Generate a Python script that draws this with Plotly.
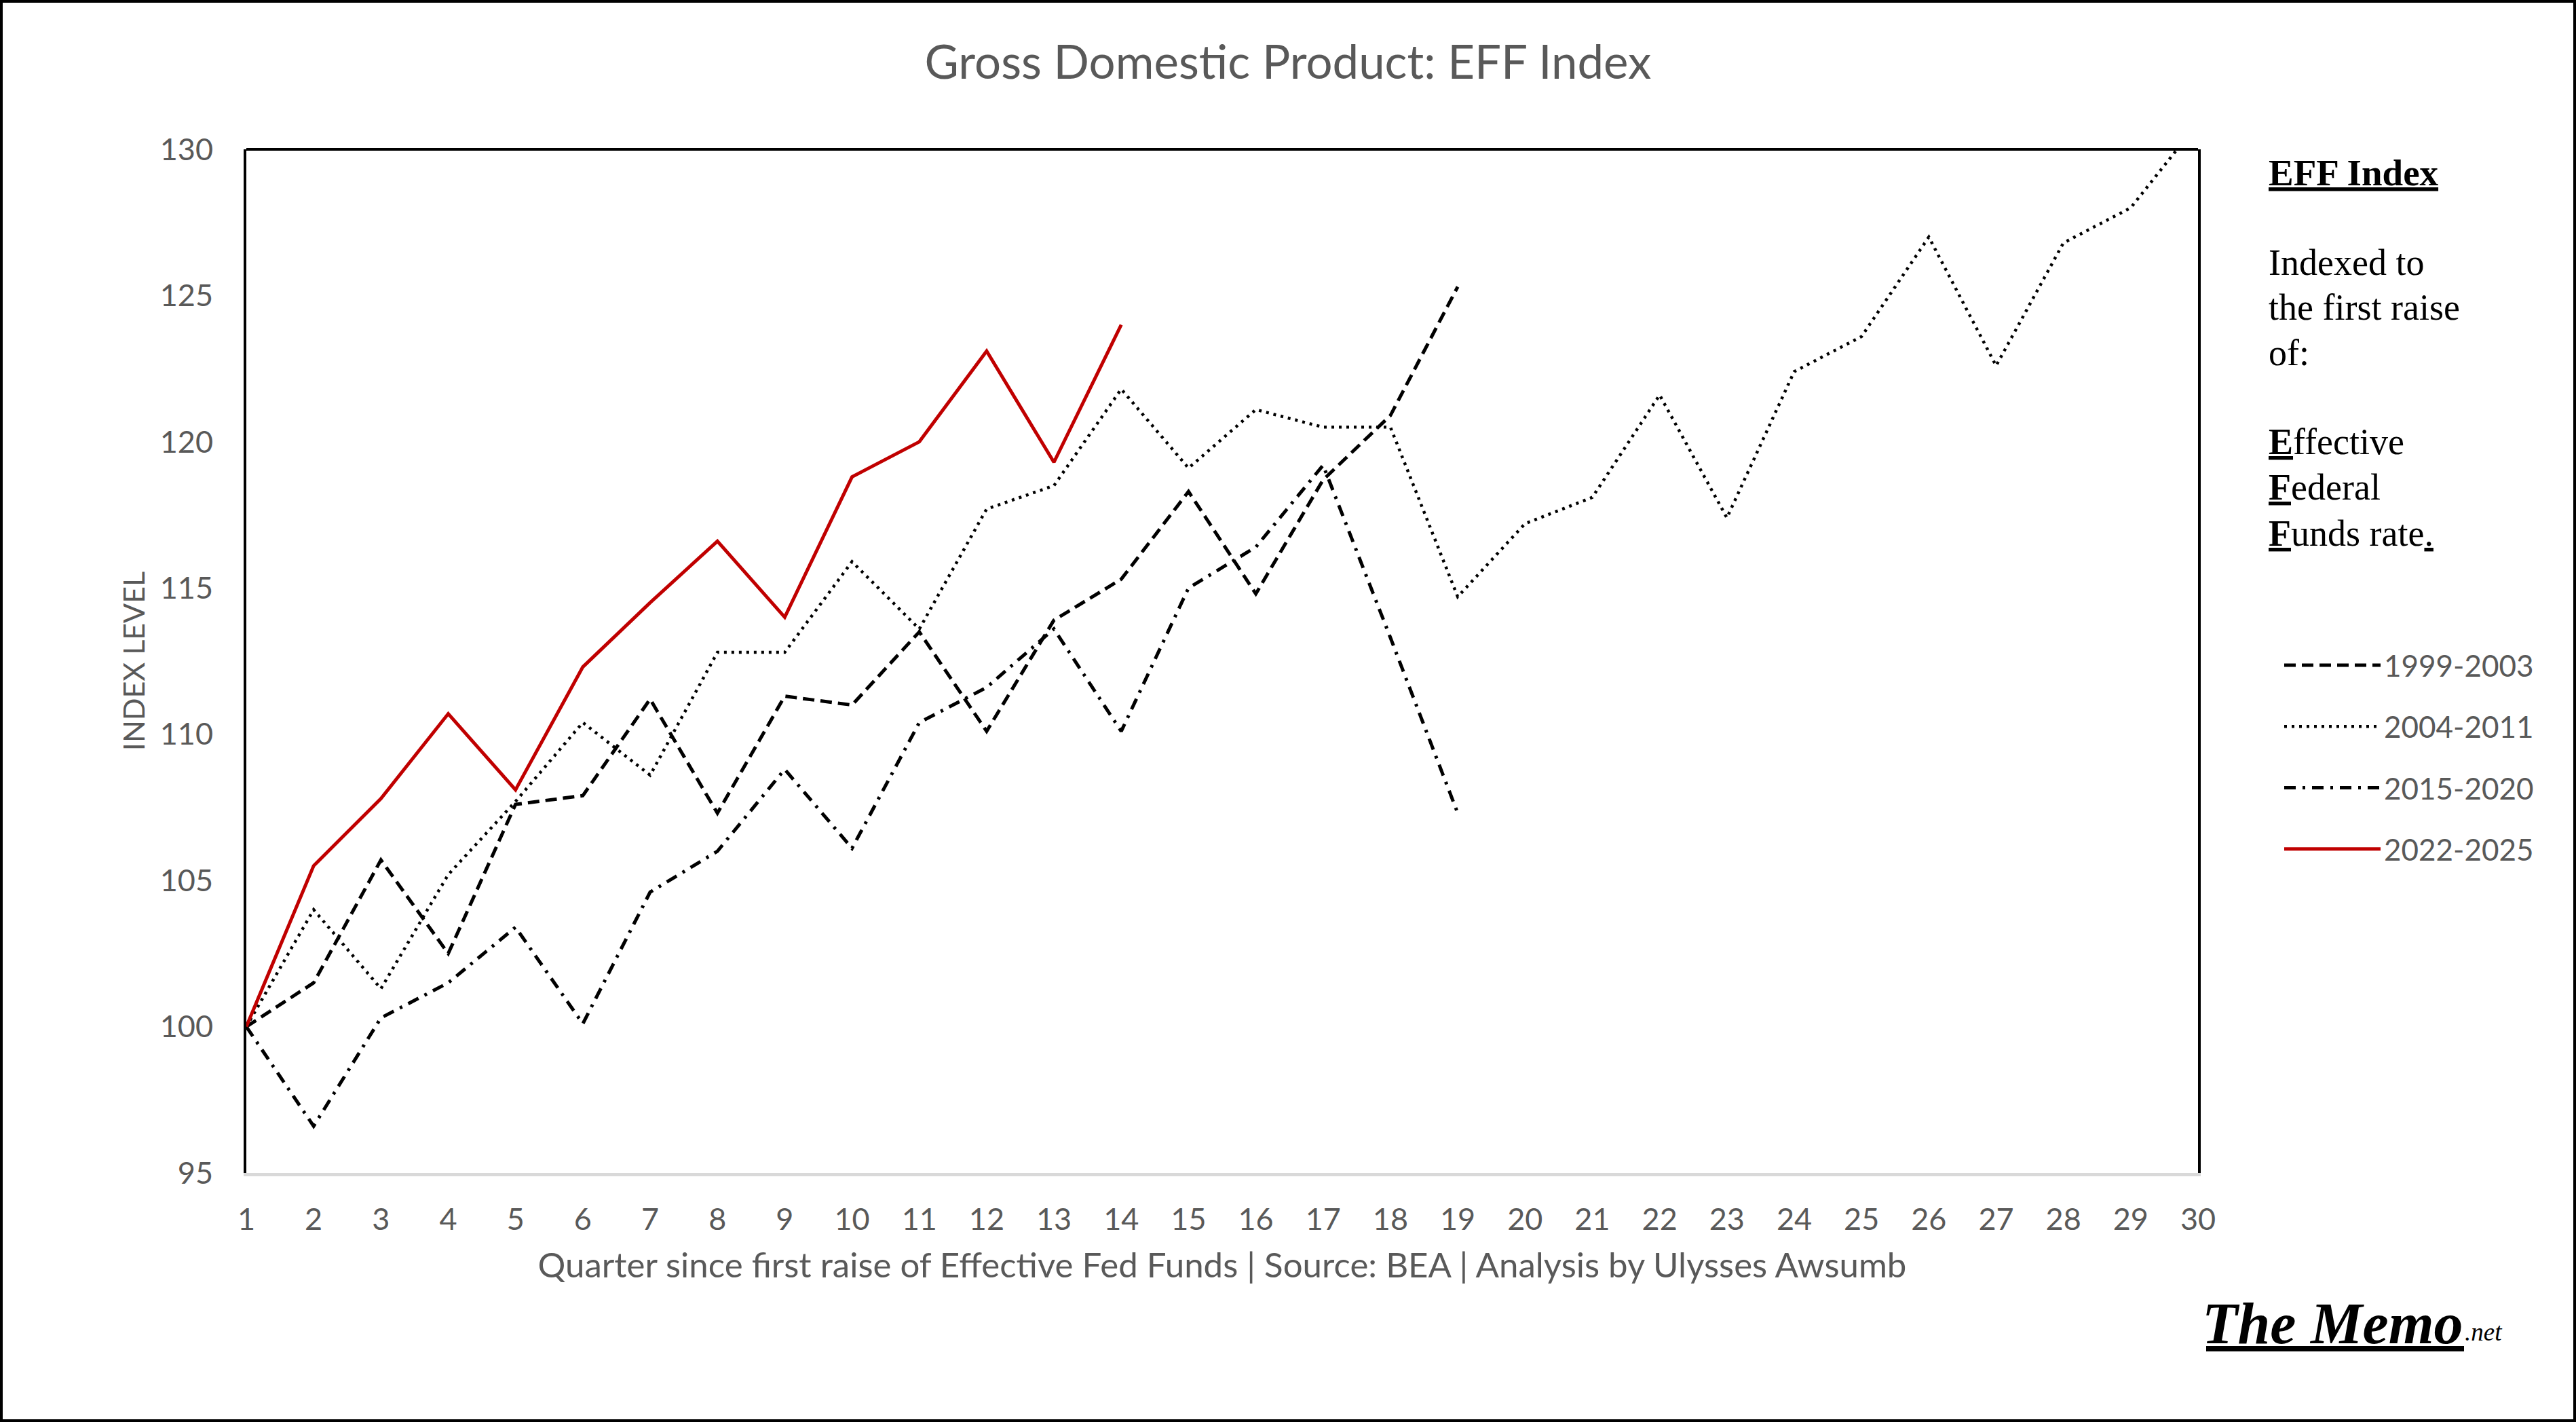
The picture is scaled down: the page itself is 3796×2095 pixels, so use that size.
import plotly.graph_objects as go

# ---------------- data ----------------
quarters = list(range(1, 31))
tick_labels = [str(q) for q in quarters]

s1999_2003 = [100.0, 101.5, 105.7, 102.5, 107.6, 107.9, 111.2, 107.3, 111.3, 111.0,
              113.5, 110.1, 113.9, 115.3, 118.3, 114.8, 118.7, 120.9, 125.3]
s2004_2011 = [100.0, 104.0, 101.3, 105.2, 107.7, 110.4, 108.6, 112.8, 112.8, 115.9,
              113.6, 117.7, 118.5, 121.8, 119.1, 121.1, 120.5, 120.5, 114.7, 117.2,
              118.1, 121.6, 117.4, 122.4, 123.6, 127.0, 122.6, 126.8, 128.0, 130.9]
s2015_2020 = [100.0, 96.6, 100.3, 101.5, 103.4, 100.1, 104.6, 106.0, 108.8, 106.1,
              110.4, 111.6, 113.6, 110.1, 115.0, 116.4, 119.2, 113.3, 107.3]
s2022_2025 = [100.0, 105.5, 107.8, 110.7, 108.1, 112.3, 114.5, 116.6, 114.0, 118.8,
              120.0, 123.1, 119.3, 124.0]

series_names = ["1999-2003", "2004-2011", "2015-2020", "2022-2025"]
series_values = [s1999_2003, s2004_2011, s2015_2020, s2022_2025]

# ---------------- geometry / styles ----------------
W, H = 3796, 2095
L, R, T, B = 363, 557, 220, 367
PW, PH = W - L - R, H - T - B


def px(X):
    return (X - L) / PW


def py(Y):
    return (H - B - Y) / PH


GRAY = "#595959"
SANS = "Lato"
SERIF = "Liberation Serif"

styles = [
    dict(color="black", width=5, dash="17px,9px"),
    dict(color="black", width=4.5, dash="4px,7px"),
    dict(color="black", width=5, dash="17px,10px,4px,10px"),
    dict(color="#C00000", width=5, dash="solid"),
]

fig = go.Figure()
for name, vals, st in zip(series_names, series_values, styles):
    fig.add_trace(go.Scatter(
        x=quarters[:len(vals)], y=vals, mode="lines", name=name,
        line=st, legendgroup=name, hoverinfo="x+y+name",
    ))

fig.update_layout(
    width=W, height=H,
    margin=dict(l=L, r=R, t=T, b=B, pad=0),
    paper_bgcolor="white", plot_bgcolor="white",
    font=dict(family=SANS, color=GRAY, size=45),
    title=dict(text="Gross Domestic Product: EFF Index", x=0.5, xref="container",
               xanchor="center", y=1 - 92 / H, yanchor="middle",
               font=dict(family=SANS, size=69, color=GRAY)),
    showlegend=True,
    legend=dict(x=px(3361), y=py(945), xanchor="left", yanchor="top",
                font=dict(family=SANS, size=44, color=GRAY),
                itemwidth=142, tracegroupgap=30, bgcolor="rgba(0,0,0,0)",
                borderwidth=0),
    xaxis=dict(range=[1, 30], tickmode="array", tickvals=quarters, ticktext=tick_labels,
               showgrid=False, zeroline=False, showline=True, linecolor="#d9d9d9",
               linewidth=5, ticks="", ticklabelstandoff=25,
               tickfont=dict(family=SANS, size=45, color=GRAY),
               title=dict(text="Quarter since first raise of Effective Fed Funds | Source: BEA | Analysis by Ulysses Awsumb",
                          font=dict(family=SANS, size=51, color=GRAY), standoff=27)),
    yaxis=dict(range=[95, 130], tickmode="linear", tick0=95, dtick=5,
               showgrid=False, zeroline=False, showline=True, linecolor="black",
               linewidth=4, mirror=True, ticks="", ticklabelstandoff=36,
               tickfont=dict(family=SANS, size=45, color=GRAY),
               title=dict(text="INDEX LEVEL", font=dict(family=SANS, size=43, color=GRAY),
                          standoff=10)),
)

# top frame line of the plot area and outer border of the picture
fig.add_shape(type="line", xref="paper", yref="paper", x0=0, x1=1, y0=1, y1=1,
              line=dict(color="black", width=4))
fig.add_shape(type="rect", xref="paper", yref="paper", x0=px(0), x1=px(W), y0=py(H), y1=py(0),
              line=dict(color="black", width=8), fillcolor="rgba(0,0,0,0)", layer="above")

# side note
note_lines = [
    ("<b><u>EFF Index</u></b>", 256, 55),
    ("Indexed to", 388, 54),
    ("the first raise", 454, 54),
    ("of:", 521, 54),
    ("<b><u>E</u></b>ffective", 652, 54),
    ("<b><u>F</u></b>ederal", 719, 54),
    ("<b><u>F</u></b>unds rate<u>.</u>", 787, 54),
]
for txt, yc, sz in note_lines:
    fig.add_annotation(text=txt, xref="paper", yref="paper", x=px(3341), y=py(yc - 1),
                       xanchor="left", yanchor="middle", showarrow=False,
                       font=dict(family=SERIF, size=sz, color="black"))

# logo
fig.add_annotation(text="<b><i>The Memo</i></b>", xref="paper", yref="paper",
                   x=px(3632), y=py(1950), xanchor="right", yanchor="middle",
                   showarrow=False, font=dict(family=SERIF, size=86, color="black"))
fig.add_annotation(text="<i>.net</i>", xref="paper", yref="paper",
                   x=px(3630), y=py(1962), xanchor="left", yanchor="middle",
                   showarrow=False, font=dict(family=SERIF, size=37, color="black"))
fig.add_shape(type="line", xref="paper", yref="paper", x0=px(3251), x1=px(3631),
              y0=py(1987), y1=py(1987), line=dict(color="black", width=8))

fig.write_html("out.html", config={"displayModeBar": False},
               post_script="document.body.style.margin='0';document.body.style.overflow='hidden';")
